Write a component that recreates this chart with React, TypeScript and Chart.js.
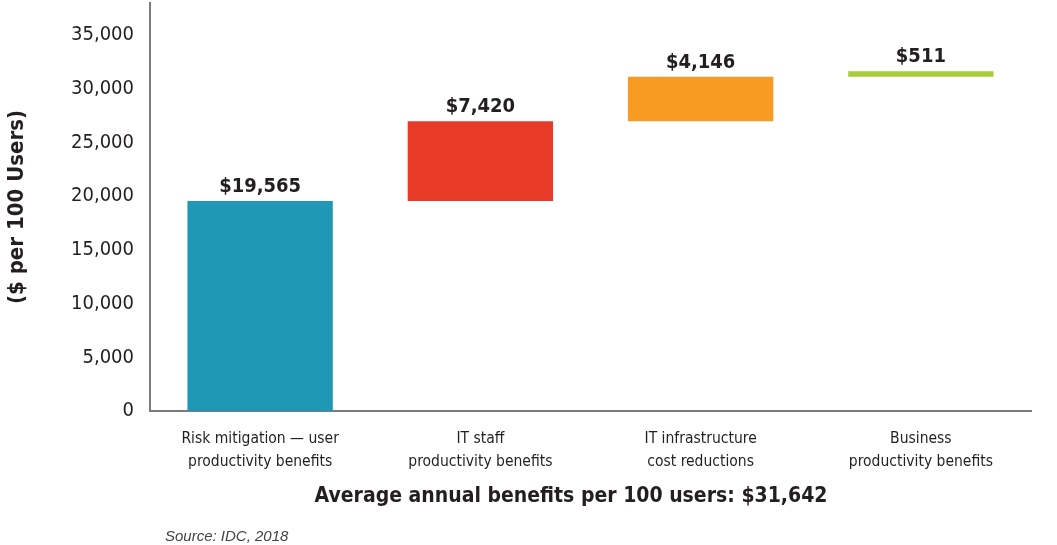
import React, { useEffect, useRef } from "react";
import { Chart, registerables } from "chart.js";

Chart.register(...registerables);

const categories: string[][] = [
  ["Risk mitigation — user", "productivity benefits"],
  ["IT staff", "productivity benefits"],
  ["IT infrastructure", "cost reductions"],
  ["Business", "productivity benefits"],
];
const increments: number[] = [19565, 7420, 4146, 511];
const barColors: string[] = ["#1f98b5", "#e83a27", "#f79b22", "#a9cc3a"];
const yTickValues: number[] = [0, 5000, 10000, 15000, 20000, 25000, 30000, 35000];
const yTitle = "($ per 100 Users)";
const caption = "Average annual benefits per 100 users: $31,642";
const source = "Source: IDC, 2018";

const NARROW = '"Liberation Sans Narrow", "DejaVu Sans Condensed", "Roboto Condensed", sans-serif';
const TEXT = "#231f20";
const AXIS = "#7a7a80";

export default function App() {
  const ref = useRef<HTMLCanvasElement | null>(null);

  useEffect(() => {
    document.body.style.margin = "0";
    const floating: [number, number][] = [];
    let run = 0;
    for (const v of increments) {
      floating.push([run, run + v]);
      run += v;
    }

    const labelPlugin = {
      id: "valueLabels",
      afterDatasetsDraw(chart: any) {
        const ctx = chart.ctx;
        const meta = chart.getDatasetMeta(0);
        ctx.save();
        ctx.fillStyle = TEXT;
        ctx.font = `bold 20px ${NARROW}`;
        ctx.textAlign = "center";
        ctx.textBaseline = "bottom";
        meta.data.forEach((el: any, i: number) => {
          const top = Math.min(el.y, el.base);
          ctx.fillText("$" + increments[i].toLocaleString("en-US"), el.x, top - 4);
        });
        ctx.restore();
      },
      afterDraw(chart: any) {
        const ctx = chart.ctx;
        ctx.save();
        ctx.fillStyle = TEXT;
        ctx.font = `bold 21px ${NARROW}`;
        ctx.textAlign = "center";
        ctx.textBaseline = "middle";
        ctx.fillText(caption, 571, 497);
        ctx.fillStyle = "#444444";
        ctx.font = `italic 15px "Liberation Sans", Arial, sans-serif`;
        ctx.textAlign = "left";
        ctx.fillText(source, 165, 537);
        ctx.restore();
      },
    };

    const chart = new Chart(ref.current as HTMLCanvasElement, {
      type: "bar",
      data: {
        labels: categories,
        datasets: [
          {
            data: floating as any,
            backgroundColor: barColors,
            borderWidth: 0,
            categoryPercentage: 1,
            barPercentage: 0.66,
          },
        ],
      },
      options: {
        animation: false,
        responsive: true,
        maintainAspectRatio: false,
        layout: { padding: { top: 3, right: 26, bottom: 0, left: 0 } },
        plugins: {
          legend: { display: false },
          tooltip: { enabled: false },
        },
        scales: {
          x: {
            grid: { display: false, drawTicks: false },
            border: { display: true, color: AXIS, width: 2 },
            ticks: {
              color: TEXT,
              font: { family: NARROW, size: 15.5, lineHeight: 1.45 },
              padding: 17,
              maxRotation: 0,
              autoSkip: false,
            },
            afterFit(scale: any) {
              scale.height = 134;
              scale.paddingLeft = 0;
              scale.paddingRight = 0;
            },
          },
          y: {
            min: 0,
            max: 38000,
            grid: { display: false, drawTicks: false },
            border: { display: true, color: AXIS, width: 2 },
            afterBuildTicks(scale: any) {
              scale.ticks = yTickValues.map((v) => ({ value: v }));
            },
            ticks: {
              color: TEXT,
              font: { family: NARROW, size: 20 },
              padding: 16,
              callback: (v: any) => Number(v).toLocaleString("en-US"),
            },
            title: {
              display: true,
              text: yTitle,
              color: TEXT,
              font: { family: NARROW, size: 22, weight: "bold" },
              padding: { top: 4, bottom: 0 },
            },
            afterFit(scale: any) {
              scale.width = 150;
              scale.paddingTop = 0;
              scale.paddingBottom = 0;
            },
          },
        },
      },
      plugins: [labelPlugin],
    });
    return () => chart.destroy();
  }, []);

  return (
    <div style={{ position: "absolute", left: 0, top: 0, width: 1057, height: 545 }}>
      <canvas ref={ref} />
    </div>
  );
}
